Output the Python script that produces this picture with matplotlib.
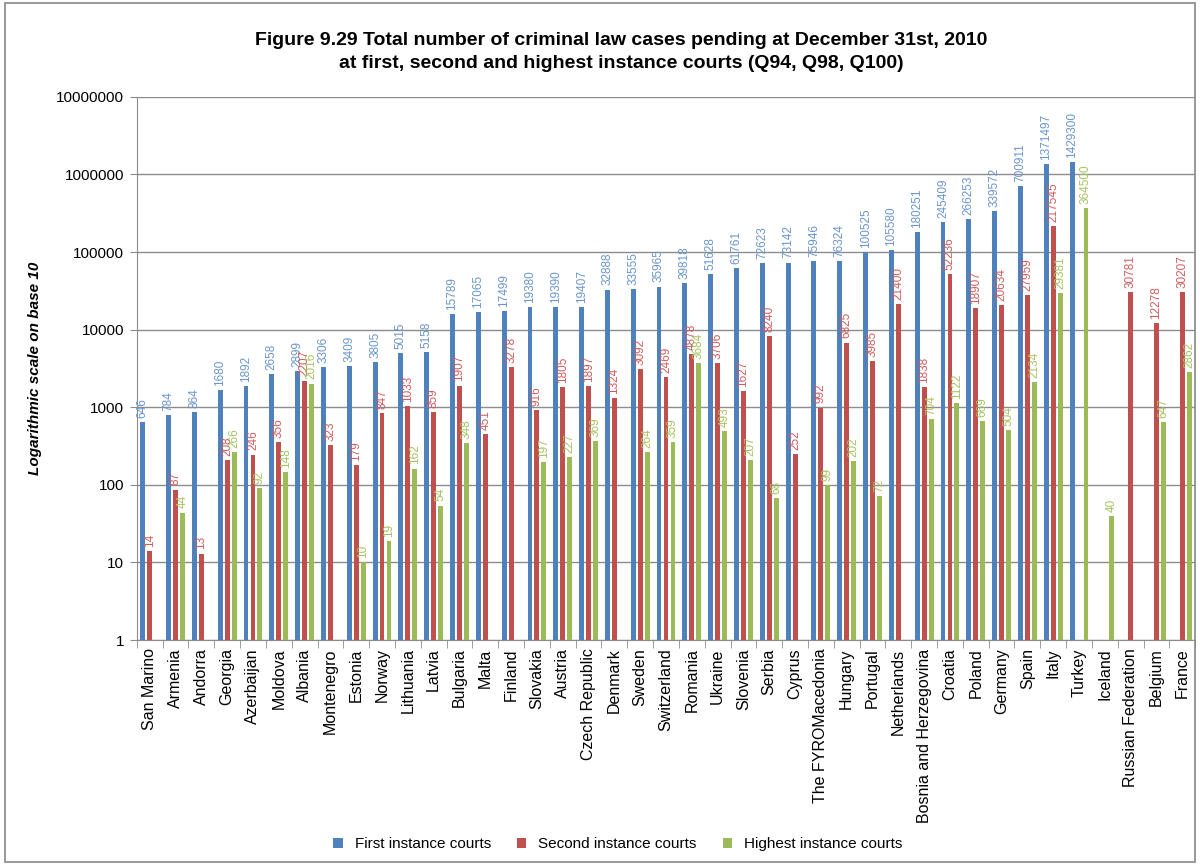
import matplotlib
matplotlib.use("Agg")
import matplotlib.pyplot as plt
from matplotlib.patches import Rectangle
import numpy as np

countries = ["San Marino", "Armenia", "Andorra", "Georgia", "Azerbaijan", "Moldova", "Albania",
             "Montenegro", "Estonia", "Norway", "Lithuania", "Latvia", "Bulgaria", "Malta", "Finland",
             "Slovakia", "Austria", "Czech Republic", "Denmark", "Sweden", "Switzerland", "Romania",
             "Ukraine", "Slovenia", "Serbia", "Cyprus", "The FYROMacedonia", "Hungary", "Portugal",
             "Netherlands", "Bosnia and Herzegovina", "Croatia", "Poland", "Germany", "Spain", "Italy",
             "Turkey", "Iceland", "Russian Federation", "Belgium", "France"]

first = [646, 784, 864, 1680, 1892, 2658, 2899, 3306, 3409, 3805, 5015, 5158, 15789, 17065, 17499,
         19380, 19390, 19407, 32888, 33555, 35965, 39818, 51628, 61761, 72623, 73142, 75946, 76324,
         100525, 105580, 180251, 245409, 266253, 339572, 700911, 1371497, 1429300, None, None, None, None]

second = [14, 87, 13, 208, 246, 356, 2207, 323, 179, 847, 1033, 859, 1907, 451, 3278, 916, 1805,
          1897, 1324, 3092, 2469, 4878, 3706, 1627, 8240, 252, 992, 6825, 3985, 21400, 1838, 52236,
          18907, 20634, 27959, 217545, None, None, 30781, 12278, 30207]

highest = [None, 44, None, 266, 92, 148, 2016, None, 10, 19, 162, 54, 348, None, None, 197, 227, 369,
           None, 264, 359, 3684, 493, 207, 68, None, 99, 202, 72, None, 704, 1122, 669, 504, 2134,
           29381, 364500, 40, None, 647, 2862]

series_names = ["First instance courts", "Second instance courts", "Highest instance courts"]
colors = ["#4F81BD", "#C0504D", "#9BBB59"]
label_colors = ["#6A95CC", "#CF5E5B", "#A5C463"]

title = ("Figure 9.29 Total number of criminal law cases pending at December 31st, 2010\n"
         "at first, second and highest instance courts (Q94, Q98, Q100)")

plt.rcParams['font.family'] = ['Liberation Sans', 'DejaVu Sans']

fig = plt.figure(figsize=(12, 8.65), dpi=100)
fig.patches.append(Rectangle((0.004, 0.003), 0.992, 0.994, transform=fig.transFigure,
                             fill=False, edgecolor="#888888", linewidth=1.2))
ax = fig.add_axes([0.114, 0.26, 0.882, 0.628])

x = np.arange(len(countries))
width = 0.19
offsets = [-0.27, 0.0, 0.27]
for s, (vals, c, lc) in enumerate(zip([first, second, highest], colors, label_colors)):
    xs = [xi + offsets[s] for xi, v in zip(x, vals) if v is not None]
    vs = [v for v in vals if v is not None]
    ax.bar(xs, vs, width=width, color=c, label=series_names[s], zorder=3)
    for xi, v in zip(xs, vs):
        ax.annotate(str(v), (xi, v), xytext=(0, 3), textcoords="offset points",
                    rotation=90, ha="center", va="bottom", fontsize=8.5, color=lc, zorder=4)

ax.set_yscale("log")
ax.set_ylim(1, 1e7)
ax.set_xlim(-0.5, len(countries) - 0.5)
ticks = [10 ** i for i in range(8)]
ax.set_yticks(ticks)
ax.set_yticklabels([str(t) for t in ticks], fontsize=11)
ax.yaxis.set_minor_locator(matplotlib.ticker.NullLocator())
ax.grid(axis="y", color="#8C8C8C", linewidth=1, zorder=0)
ax.set_axisbelow(True)

ax.set_xticks(x)
ax.set_xticklabels(countries, rotation=90, fontsize=11.5)
ax.tick_params(axis="x", length=0, pad=6)
ax.set_xticks(np.arange(-0.5, len(countries), 1), minor=True)
ax.tick_params(axis="x", which="minor", length=6, color="#8C8C8C")
ax.tick_params(axis="y", length=5, color="#8C8C8C", pad=4)

for sp in ["top", "right"]:
    ax.spines[sp].set_visible(False)
for sp in ["left", "bottom"]:
    ax.spines[sp].set_color("#8C8C8C")

ax.set_ylabel("Logarithmic scale on base 10", fontsize=11, fontweight="bold", style="italic",
              labelpad=10)
fig.text(0.518, 0.94, title, ha="center", va="center", fontsize=14, fontweight="bold",
         linespacing=1.45)

handles, labels = ax.get_legend_handles_labels()
fig.legend(handles, labels, loc="center", bbox_to_anchor=(0.515, 0.024), ncol=3, frameon=False,
           fontsize=11, handlelength=0.6, handleheight=0.6, columnspacing=1.7)

fig.savefig("out.png", dpi=100)
